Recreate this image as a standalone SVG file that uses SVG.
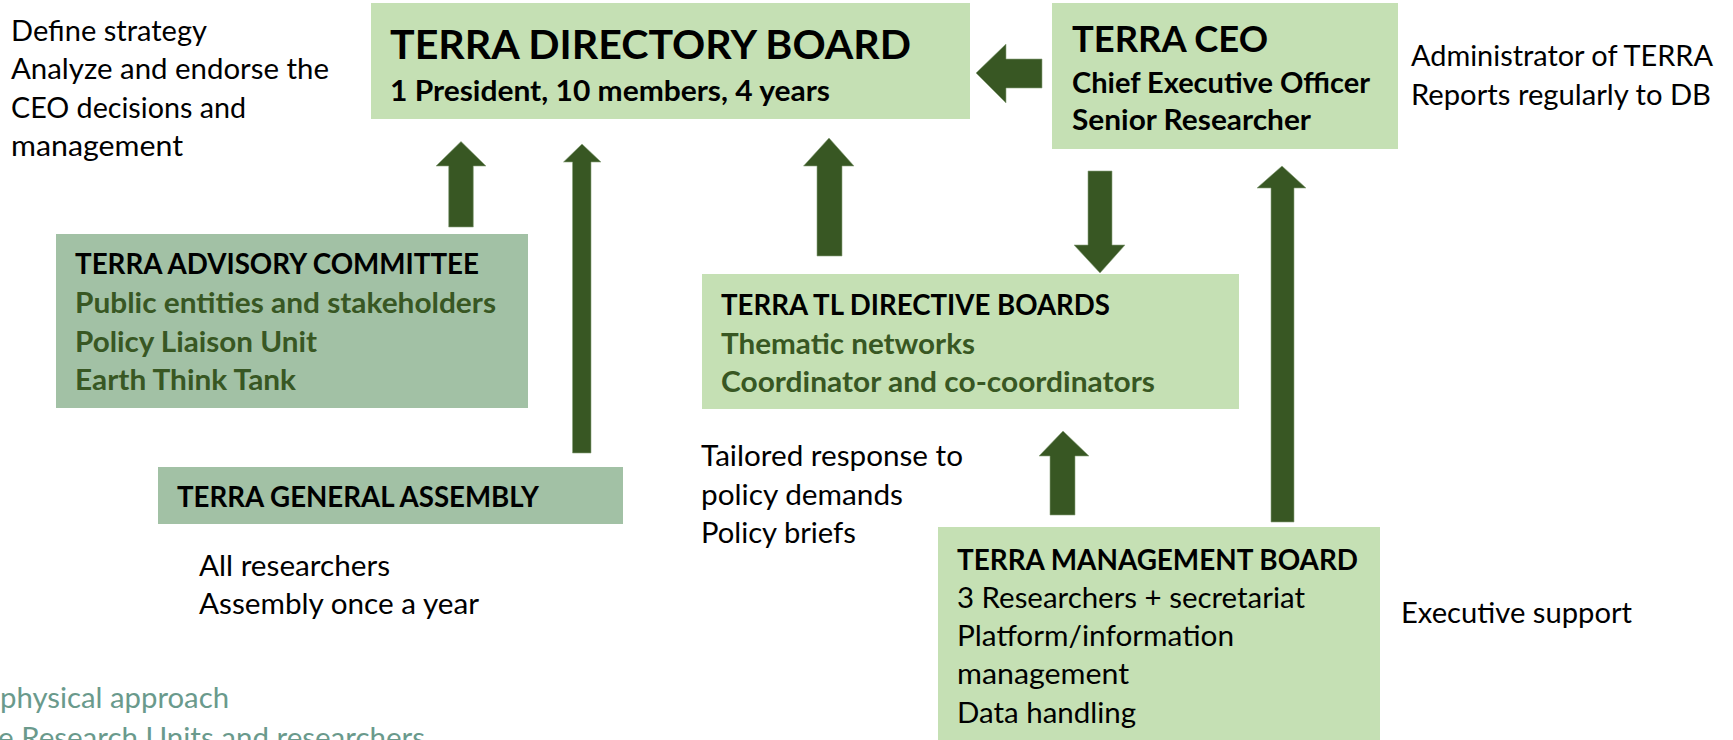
<svg xmlns="http://www.w3.org/2000/svg" width="1733" height="740" viewBox="0 0 1733 740">
<defs>
<style>
text{font-family:Lato,"Liberation Sans",sans-serif;font-size:29px;fill:#000}
.b{font-weight:bold}
.t{font-size:28px}
.g{fill:#385723}
.light{fill:#c5e0b4}
.sage{fill:#a2c1a5}
.arr{fill:#385723;stroke:#8aa37c;stroke-width:0.6}
.faint{fill:#6a9a8c}
</style>
</defs>
<rect width="1733" height="740" fill="#ffffff"/>
<g id="directory-board">
<rect class="light" x="371" y="3" width="599" height="116"/>
<text class="b" x="390" y="59" style="font-size:41px" textLength="521" lengthAdjust="spacingAndGlyphs">TERRA DIRECTORY BOARD</text>
<text class="b" x="390" y="101" textLength="440" lengthAdjust="spacingAndGlyphs">1 President, 10 members, 4 years</text>
</g>
<g id="ceo">
<rect class="light" x="1052" y="3" width="346" height="146"/>
<text class="b" x="1072" y="52" style="font-size:37px" textLength="196" lengthAdjust="spacingAndGlyphs">TERRA CEO</text>
<text class="b" x="1072" y="93" textLength="298" lengthAdjust="spacingAndGlyphs">Chief Executive Officer</text>
<text class="b" x="1072" y="130" textLength="239" lengthAdjust="spacingAndGlyphs">Senior Researcher</text>
</g>
<g id="db-notes">
<text x="11" y="41" textLength="196" lengthAdjust="spacingAndGlyphs">Define strategy</text>
<text x="11" y="79" textLength="318" lengthAdjust="spacingAndGlyphs">Analyze and endorse the</text>
<text x="11" y="118" textLength="235" lengthAdjust="spacingAndGlyphs">CEO decisions and</text>
<text x="11" y="156" textLength="172" lengthAdjust="spacingAndGlyphs">management</text>
</g>
<g id="ceo-notes">
<text x="1411" y="66" textLength="302" lengthAdjust="spacingAndGlyphs">Administrator of TERRA</text>
<text x="1411" y="105" textLength="300" lengthAdjust="spacingAndGlyphs">Reports regularly to DB</text>
</g>
<g id="advisory-committee">
<rect class="sage" x="56" y="234" width="472" height="174"/>
<text class="b t" x="75" y="274" textLength="404" lengthAdjust="spacingAndGlyphs">TERRA ADVISORY COMMITTEE</text>
<text class="b g" x="75" y="313" textLength="421" lengthAdjust="spacingAndGlyphs">Public entities and stakeholders</text>
<text class="b g" x="75" y="352" textLength="242" lengthAdjust="spacingAndGlyphs">Policy Liaison Unit</text>
<text class="b g" x="75" y="390" textLength="221" lengthAdjust="spacingAndGlyphs">Earth Think Tank</text>
</g>
<g id="general-assembly">
<rect class="sage" x="158" y="467" width="465" height="57"/>
<text class="b t" x="177" y="507" textLength="362" lengthAdjust="spacingAndGlyphs">TERRA GENERAL ASSEMBLY</text>
</g>
<g id="assembly-notes">
<text x="199" y="576" textLength="191" lengthAdjust="spacingAndGlyphs">All researchers</text>
<text x="199" y="614" textLength="280" lengthAdjust="spacingAndGlyphs">Assembly once a year</text>
</g>
<g id="tl-directive-boards">
<rect class="light" x="702" y="274" width="537" height="135"/>
<text class="b t" x="721" y="315" textLength="389" lengthAdjust="spacingAndGlyphs">TERRA TL DIRECTIVE BOARDS</text>
<text class="b g" x="721" y="354" textLength="254" lengthAdjust="spacingAndGlyphs">Thematic networks</text>
<text class="b g" x="721" y="392" textLength="434" lengthAdjust="spacingAndGlyphs">Coordinator and co-coordinators</text>
</g>
<g id="tl-notes">
<text x="701" y="466" textLength="262" lengthAdjust="spacingAndGlyphs">Tailored response to</text>
<text x="701" y="505" textLength="202" lengthAdjust="spacingAndGlyphs">policy demands</text>
<text x="701" y="543" textLength="155" lengthAdjust="spacingAndGlyphs">Policy briefs</text>
</g>
<g id="management-board">
<rect class="light" x="938" y="527" width="442" height="213"/>
<text class="b t" x="957" y="570" textLength="401" lengthAdjust="spacingAndGlyphs">TERRA MANAGEMENT BOARD</text>
<text x="957" y="608" textLength="348" lengthAdjust="spacingAndGlyphs">3 Researchers + secretariat</text>
<text x="957" y="646" textLength="277" lengthAdjust="spacingAndGlyphs">Platform/information</text>
<text x="957" y="684" textLength="172" lengthAdjust="spacingAndGlyphs">management</text>
<text x="957" y="723" textLength="179" lengthAdjust="spacingAndGlyphs">Data handling</text>
</g>
<g id="mb-notes">
<text x="1401" y="623" textLength="231" lengthAdjust="spacingAndGlyphs">Executive support</text>
</g>
<g id="cutoff-text">
<text class="faint" x="0" y="708" textLength="229" lengthAdjust="spacingAndGlyphs">physical approach</text>
<text class="faint" x="-2" y="748" textLength="427" lengthAdjust="spacingAndGlyphs">e Research Units and researchers</text>
</g>
<g id="connectors">
<polygon class="arr" points="976,73 1006,44 1006,59 1042,59 1042,88 1006,88 1006,103"/>
<polygon class="arr" points="461,141.5 486,166 473.3,166 473.3,227 448.7,227 448.7,166 436,166"/>
<polygon class="arr" points="582,144 601,162 591,162 591,453 572.5,453 572.5,162 563.5,162"/>
<polygon class="arr" points="829,138 854,166 842,166 842,256 817,256 817,166 803.5,166"/>
<polygon class="arr" points="1100,273 1125,245 1112,245 1112,171 1088,171 1088,245 1074,245"/>
<polygon class="arr" points="1282,166 1306,188 1294,188 1294,522 1271,522 1271,188 1257,188"/>
<polygon class="arr" points="1063,431 1089,456 1075,456 1075,515 1050,515 1050,456 1039,456"/>
</g>
</svg>
